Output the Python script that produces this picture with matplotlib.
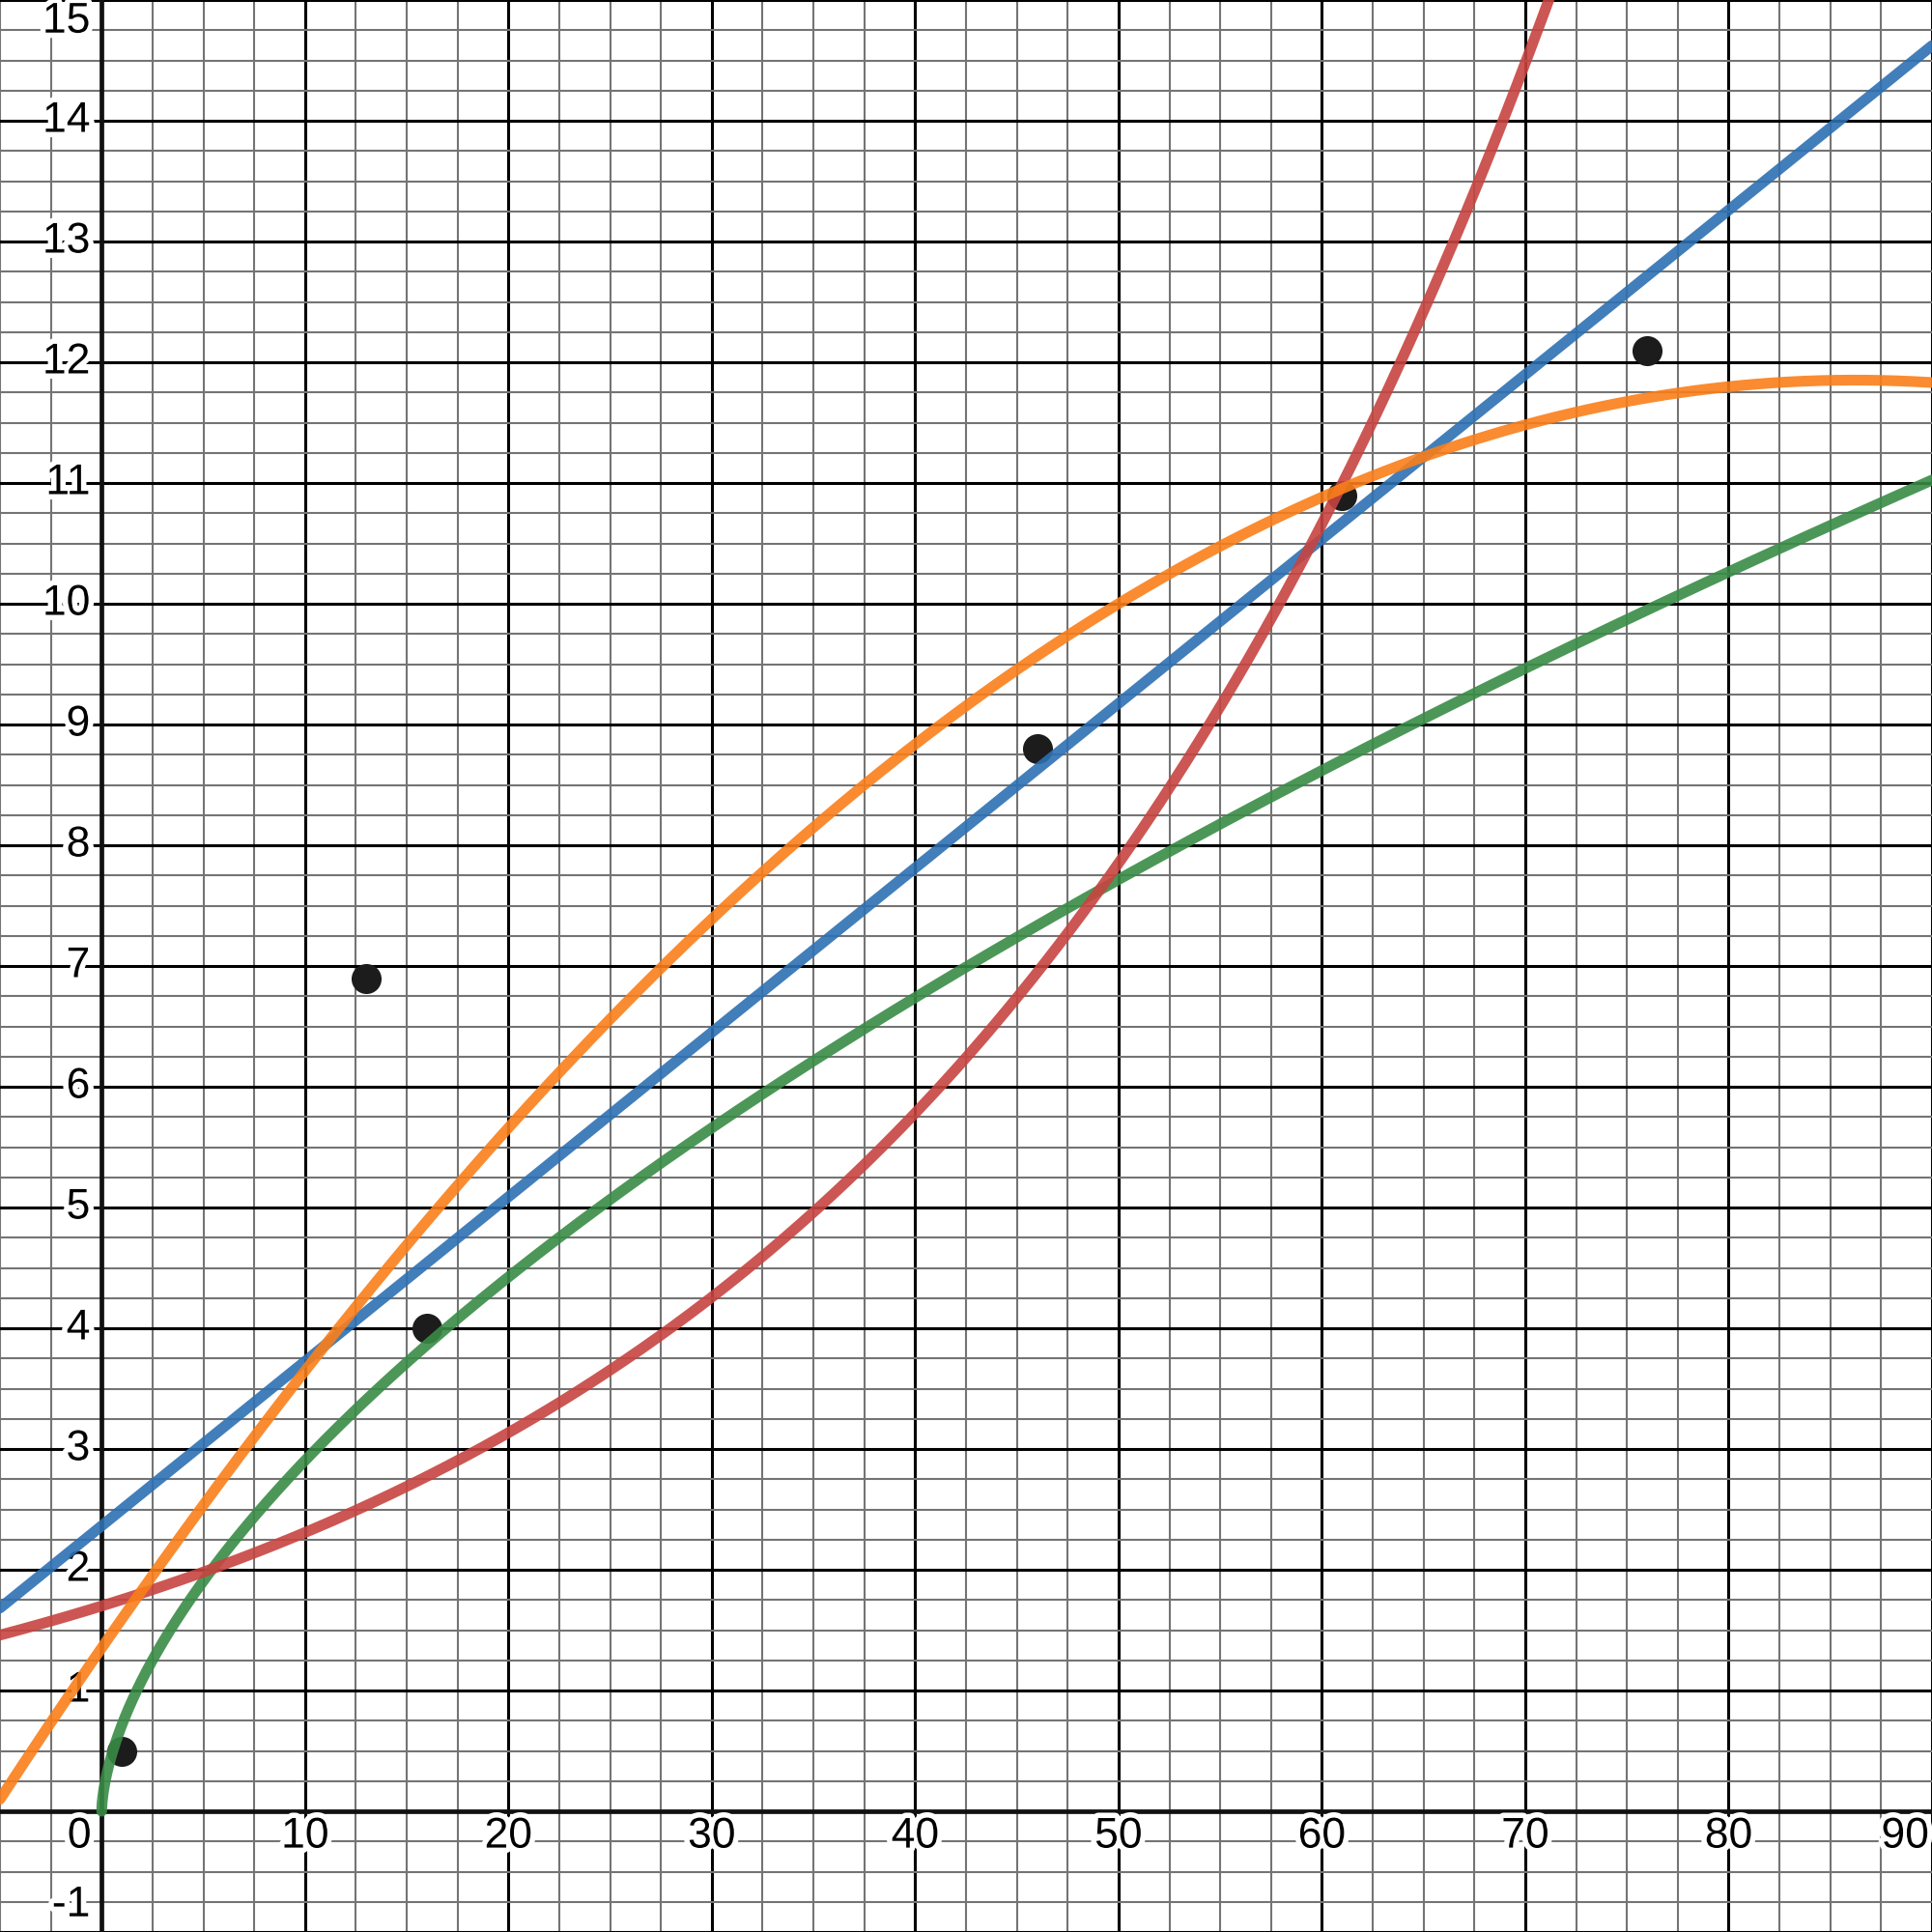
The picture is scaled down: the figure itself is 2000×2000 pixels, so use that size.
import numpy as np
import matplotlib.pyplot as plt
import matplotlib.patheffects as pe
from matplotlib.ticker import MultipleLocator

# Puntos de datos
puntos_x = [1, 13, 16, 46, 61, 76]
puntos_y = [0.5, 6.9, 4.0, 8.8, 10.9, 12.1]

# Coeficientes de las regresiones
lineal = [0.1362, 2.364]                  # y = m x + b
cuadratica = [-0.001413, 0.2436, 1.353]   # y = c2 x^2 + c1 x + c0
exp_a, exp_k = 1.70, 0.0306               # y = a * e^(k x)
pot_a, pot_b = 0.718, 0.607               # y = a * x^b

etiquetas_x = [10, 20, 30, 40, 50, 60, 70, 80, 90]
etiquetas_y = [-1, 1, 2, 3, 4, 5, 6, 7, 8, 9, 10, 11, 12, 13, 14, 15]

COLORES = {
    "lineal": "#2d70b3",
    "cuadratica": "#fa7e19",
    "exponencial": "#c74440",
    "potencia": "#388c46",
}

fig = plt.figure(figsize=(10, 10), dpi=200)
ax = fig.add_axes([0, 0, 1, 1])
ax.set_xlim(-5, 90)
ax.set_ylim(-1, 15)

# Cuadricula estilo papel milimetrado
ax.xaxis.set_major_locator(MultipleLocator(10))
ax.xaxis.set_minor_locator(MultipleLocator(2.5))
ax.yaxis.set_major_locator(MultipleLocator(1))
ax.yaxis.set_minor_locator(MultipleLocator(0.25))
ax.set_axisbelow(True)
ax.grid(which="minor", color="#747474", lw=0.75)
ax.grid(which="major", color="black", lw=1.1)
ax.tick_params(which="both", length=0, labelbottom=False, labelleft=False)
for s in ax.spines.values():
    s.set_visible(False)

ax.axhline(0, color="#111111", lw=1.7, zorder=1)
ax.axvline(0, color="#111111", lw=1.7, zorder=1)

# Etiquetas de los ejes con halo blanco
halo = [pe.withStroke(linewidth=4, foreground="white")]
estilo = dict(textcoords="offset points", fontsize=16, family="Liberation Sans",
              color="black", zorder=2, path_effects=halo)

for v in etiquetas_x:
    dx = -10 if v == 90 else 0
    ax.annotate(str(v), xy=(v, 0), xytext=(dx, -9.4), ha="center", va="center", **estilo)
ax.annotate("0", xy=(0, 0), xytext=(-8.3, -9.4), ha="center", va="center", **estilo)

for v in etiquetas_y:
    dy = 0
    if v == 15:
        dy = -8
    elif v == -1:
        dy = 10
    ax.annotate(str(v), xy=(0, v), xytext=(-4.3, dy), ha="right", va="center", **estilo)

# Puntos
ax.scatter(puntos_x, puntos_y, s=125, color="#1c1c1c", lw=0, zorder=3)

# Curvas de regresion
xs = np.linspace(-5, 90, 500)
grosor = 4

xs_g = 90 * np.linspace(0, 1, 800) ** 2
ax.plot(xs_g, pot_a * xs_g ** pot_b, color=COLORES["potencia"], lw=grosor, alpha=0.9,
        solid_capstyle="round", zorder=4)
ax.plot(xs, np.polyval(lineal, xs), color=COLORES["lineal"], lw=grosor, alpha=0.9,
        solid_capstyle="round", zorder=5)
xs_r = np.linspace(-5, 73, 500)
ax.plot(xs_r, exp_a * np.exp(exp_k * xs_r), color=COLORES["exponencial"], lw=grosor, alpha=0.9,
        solid_capstyle="round", zorder=6)
ax.plot(xs, np.polyval(cuadratica, xs), color=COLORES["cuadratica"], lw=grosor, alpha=0.9,
        solid_capstyle="round", zorder=7)

fig.savefig("out.png", dpi=200)
